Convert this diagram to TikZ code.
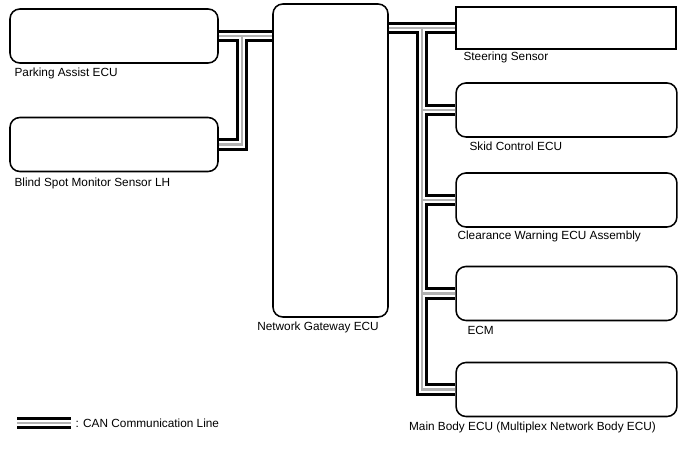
\documentclass[tikz,border=0pt]{standalone}
\usepackage{fontspec}
\setmainfont{Liberation Sans}
\usetikzlibrary{backgrounds}

\begin{document}
\begin{tikzpicture}[line width=0.8pt,
  ecu/.style={draw,line width=1.1pt,fill=white,rounded corners=7pt,
    minimum width=5.52cm,minimum height=1.35cm,inner sep=0pt},
  lbl/.style={font=\fontsize{8.4}{10}\selectfont,inner sep=0pt}]
\useasboundingbox (0,0) rectangle (17.2,11.575);
% bus trunks
\coordinate (lbus) at (6.05,9);
\coordinate (rbus) at (10.55,9);
% left ECUs
\node[ecu,minimum width=5.2cm] (pa) at (2.85,10.675) {};
\node[lbl,anchor=west] (palbl) at (0.35,9.75) {Parking Assist ECU};
\node[ecu,minimum width=5.2cm] (bsm) at (2.85,7.9625) {};
\node[lbl,anchor=west] (bsmlbl) at (0.35,7.0) {Blind Spot Monitor Sensor LH};
% gateway
\node[ecu,minimum width=2.875cm,minimum height=7.825cm] (gw) at (8.2625,7.5625) {};
\node[lbl] (gwlbl) at (7.95,3.4) {Network Gateway ECU};
% right ECUs
\node[ecu,sharp corners,minimum width=5.5cm,minimum height=1.05cm] (ss) at (14.15,10.875) {};
\node[lbl,anchor=west] (sslbl) at (11.575,10.15) {Steering Sensor};
\node[ecu] (sk) at (14.1625,8.825) {};
\node[lbl,anchor=west] (sklbl) at (11.725,7.925) {Skid Control ECU};
\node[ecu] (cw) at (14.1625,6.575) {};
\node[lbl,anchor=west] (cwlbl) at (11.425,5.675) {Clearance Warning ECU Assembly};
\node[ecu] (ecm) at (14.1625,4.2375) {};
\node[lbl,anchor=west] (ecmlbl) at (11.675,3.325) {ECM};
\node[ecu] (mb) at (14.1625,1.8375) {};
\node[lbl] (mblbl) at (13.3125,0.9) {Main Body ECU (Multiplex Network Body ECU)};
% legend
\coordinate (lg1) at (0.425,1.0);
\coordinate (lg2) at (1.775,1.0);
\node[lbl,anchor=west] (lglbl) at (1.875,1.0) {: CAN Communication Line};
% CAN lines: black, white gap, gray core
\begin{scope}[on background layer]
\foreach \w/\c in {8.6pt/black,4.4pt/white,1.5pt/gray!60}{
  \draw[line width=\w,draw=\c] (pa.east) -- (gw.west |- pa.east);
  \draw[line width=\w,draw=\c] (lbus |- pa.east) -- (lbus |- bsm.east) -- (bsm.east);
  \draw[line width=\w,draw=\c] (gw.east |- ss.west) -- (ss.west);
  \draw[line width=\w,draw=\c] (rbus |- ss.west) -- (rbus |- mb.west) -- (mb.west);
  \foreach \n in {sk,cw,ecm}
    \draw[line width=\w,draw=\c] (rbus |- \n.west) -- (\n.west);
  \draw[line width=\w,draw=\c] (lg1) -- (lg2);
}
\end{scope}
\end{tikzpicture}
\end{document}
